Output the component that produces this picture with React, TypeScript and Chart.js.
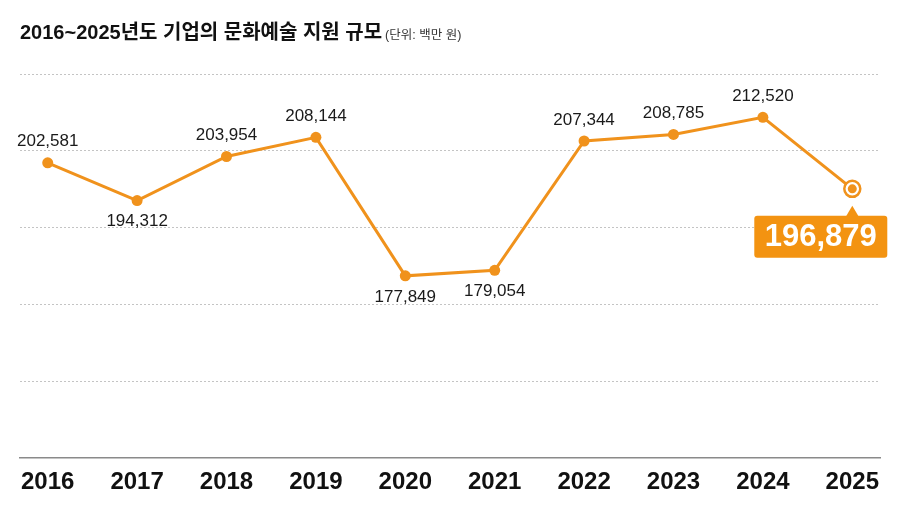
import React, { useEffect, useRef } from "react";
import { Chart, registerables } from "chart.js";

Chart.register(...registerables);

// Corporate arts & culture sponsorship, 2016–2025 (unit: million KRW)
const years = ["2016", "2017", "2018", "2019", "2020", "2021", "2022", "2023", "2024", "2025"];
const support = [202581, 194312, 203954, 208144, 177849, 179054, 207344, 208785, 212520, 196879];
// where each value label sits relative to its point
const labelSide = ["above", "below", "above", "above", "below", "below", "above", "above", "above", "callout"];

const TITLE = "2016~2025년도 기업의 문화예술 지원 규모";
const UNIT = "(단위: 백만 원)";

const ORANGE = "#F0921C";
const BOX = "#F39311";
const LATIN = '"Liberation Sans", Arial, "Noto Sans CJK KR", sans-serif';

const fmt = (v: number) => v.toLocaleString("en-US");

const overlayPlugin = {
  id: "overlay",
  beforeDraw(chart: any) {
    const { ctx } = chart;
    ctx.save();
    ctx.fillStyle = "#fff";
    ctx.fillRect(0, 0, chart.width, chart.height);
    ctx.textBaseline = "alphabetic";
    ctx.textAlign = "left";
    ctx.fillStyle = "#111";
    ctx.font = `bold 20px ${LATIN}`;
    ctx.fillText(TITLE, 20, 39);
    const w = ctx.measureText(TITLE).width;
    ctx.fillStyle = "#333";
    ctx.font = `12.5px ${LATIN}`;
    ctx.fillText(UNIT, 20 + w + 3, 39);
    ctx.restore();
  },
  afterDatasetsDraw(chart: any) {
    const { ctx } = chart;
    const meta = chart.getDatasetMeta(0);
    ctx.save();
    meta.data.forEach((pt: any, i: number) => {
      const side = labelSide[i];
      const text = fmt(support[i]);
      if (side === "callout") {
        // inner dot of the highlighted marker
        ctx.fillStyle = ORANGE;
        ctx.beginPath();
        ctx.arc(pt.x, pt.y, 4.5, 0, Math.PI * 2);
        ctx.fill();
        // value box with pointer
        const left = pt.x - 98;
        const right = pt.x + 35;
        const top = pt.y + 27;
        const bottom = pt.y + 69;
        ctx.fillStyle = BOX;
        ctx.beginPath();
        ctx.roundRect(left, top, right - left, bottom - top, 3);
        ctx.fill();
        ctx.beginPath();
        ctx.moveTo(pt.x - 6.5, top + 1);
        ctx.lineTo(pt.x, pt.y + 17);
        ctx.lineTo(pt.x + 6.5, top + 1);
        ctx.closePath();
        ctx.fill();
        ctx.fillStyle = "#fff";
        ctx.font = `bold 31px ${LATIN}`;
        ctx.textAlign = "center";
        ctx.textBaseline = "middle";
        ctx.fillText(text, (left + right) / 2, (top + bottom) / 2 + 1);
        return;
      }
      ctx.fillStyle = "#1a1a1a";
      ctx.font = `17px ${LATIN}`;
      ctx.textAlign = "center";
      ctx.textBaseline = "middle";
      const y = side === "above" ? pt.y - 21 : pt.y + 21;
      ctx.fillText(text, pt.x, y);
    });
    ctx.restore();
  },
};

export default function App() {
  const canvasRef = useRef<HTMLCanvasElement | null>(null);

  useEffect(() => {
    document.body.style.margin = "0";
    const canvas = canvasRef.current;
    if (!canvas) return;
    const last = support.length - 1;
    const chart = new Chart(canvas, {
      type: "line",
      data: {
        datasets: [
          {
            data: support.map((v, i) => ({ x: i, y: v })),
            borderColor: ORANGE,
            borderWidth: 3,
            tension: 0,
            pointRadius: (c: any) => (c.dataIndex === last ? 8 : 5.5),
            pointHoverRadius: (c: any) => (c.dataIndex === last ? 8 : 5.5),
            pointBackgroundColor: (c: any) => (c.dataIndex === last ? "#fff" : ORANGE),
            pointBorderColor: ORANGE,
            pointBorderWidth: (c: any) => (c.dataIndex === last ? 2.5 : 0),
          },
        ],
      },
      options: {
        animation: false,
        responsive: false,
        maintainAspectRatio: false,
        events: [],
        layout: { padding: { left: 20, right: 20, top: 74, bottom: 0 } },
        plugins: { legend: { display: false }, tooltip: { enabled: false }, title: { display: false } },
        scales: {
          x: {
            type: "linear",
            min: -0.31,
            max: 9.31,
            afterBuildTicks: (axis: any) => {
              axis.ticks = years.map((_, i) => ({ value: i }));
            },
            afterFit: (s: any) => {
              s.height = 58;
            },
            grid: { display: false },
            border: { display: true, color: "#8a8a8a", width: 1.5 },
            ticks: {
              padding: 2,
              color: "#111",
              font: { family: LATIN, size: 24, weight: "bold" },
              callback: (v: any) => years[v] ?? "",
              maxRotation: 0,
              autoSkip: false,
            },
          },
          y: {
            min: 138000,
            max: 222000,
            afterFit: (s: any) => {
              s.width = 0;
            },
            ticks: { display: false, stepSize: 16800 },
            border: { display: false },
            grid: {
              color: (c: any) => (c.tick && c.tick.value <= 138000 ? "rgba(0,0,0,0)" : "#c4c4c4"),
              lineWidth: 1,
              drawTicks: false,
            },
          },
        },
      },
      plugins: [overlayPlugin],
    } as any);
    // dashed horizontal guides
    (chart.options.scales as any).y.border.dash = [2, 2];
    chart.update();
    return () => chart.destroy();
  }, []);

  return (
    <div style={{ width: 900, height: 516 }}>
      <canvas ref={canvasRef} width={900} height={516} style={{ display: "block" }} />
    </div>
  );
}
